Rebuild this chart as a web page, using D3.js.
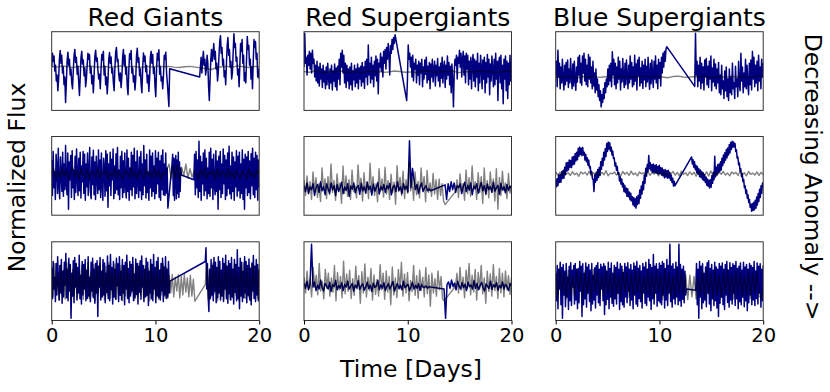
<!DOCTYPE html>
<html><head><meta charset="utf-8">
<script src="https://cdn.jsdelivr.net/npm/d3@7"></script>
<style>body{margin:0;background:#fff;} text{font-family:"DejaVu Sans",sans-serif;fill:#000;}</style>
</head><body>
<svg id="chart" width="830" height="392"></svg>
<script>
// ---------- labels ----------
const colTitles = ["Red Giants", "Red Supergiants", "Blue Supergiants"];
const xTicks = [0, 10, 20];
const xDomain = [0, 20];
const xLabel = "Time [Days]";
const yLabel = "Normalized Flux";
const rightLabel = "Decreasing Anomaly -->";

// ---------- data (values in panel units, -100 = bottom, 100 = top) ----------
// Row 1, Red Giants
const navyA1 = [10,45,25,38,0,15,-25,-10,-50,-20,30,52,20,40,-5,10,-35,-15,-80,-30,25,48,15,30,-10,5,-30,-45,0,40,55,22,35,-8,12,-28,-62,-15,35,50,18,28,-12,8,-40,-20,15,45,30,42,-5,10,-32,-12,-55,-10,38,53,25,33,0,-20,-8,-45,5,42,28,50,-10,12,-35,-15,-58,-25,30,47,20,36,-5,6,-30,-50,10,48,60,24,30,-10,-25,-5,-42,-15,35,55,15,40,-8,10,-38,-60,0,44,30,52,-5,8,-28,-12,-48,-20,40,58,22,34,-12,5,-35,-55,8,46,25,38,-2,14,-30,-10,-52,-18,36,50,20,42,-6,9,-40,-65,5,45,28,54,-8,10,-25,-15,-45,-10,40,30,48,-5,-30,-60,-90,6];
const navyA2 = [-15,10,35,-5,25,50,15,30,-10,5,40,20,-40,-75,-20,30,55,25,45,70,30,50,5,20,-25,-5,40,75,90,45,60,15,30,-15,0,-35,20,65,85,40,55,10,25,-20,-5,45,95,60,70,25,35,-10,5,-40,15,70,50,80,20,40,-25,-5,-30,30,88,55,65,15,30,-20,10,-45,25,80,60,75,30,45,-15,5,-20];
const grayA = [12,10,13,11,9,12,10,13,11,10,12,9,11,13,10,12,11,9,12,10,13,11,12,10,9,11,12,10,8,6,4,9,11,12,10,13,11,9,12,11];
// Row 1, Red Supergiants
const navyB1 = [10,96,20,35,-10,40,15,50,5,45,-5,53,20,30,-15,15,-25,25,-30,10,-38,20,-20,5,-42,15,-28,0,-45,10,-35,20,-15,-45,5,-30,15,-48,0,-25,18,-40,8,-49,12,-20,30,-35,45,10,53,-5,40,-30,20,-42,15,-25,5,-45,10,-35,20,-48,0,-22,15,-40,5,-30,18,-45,8,-20,12,-38,22,-28,10,-44,25,-15,30,-35,66,-10,20,-30,35,-20,15,-40,25,-12,38,-25,30,-58,20,10,45,0,35,-15,50,20,55,5,60,30,70,40,-10,65,45,80,55,85,70,92];
const navyB2 = [-75,-20,66,30,45,10,35,-15,40,-25,20,5,30,-30,15,-10,25,-35,20,-5,30,-40,10,-20,28,-8,35,-30,12,-22,22,-45,18,-15,30,-28,5,25,-38,15,-12,32,-25,10,-40,20,-18,35,-30,8,25,-42,15,-20,38,-10,22,-35,12,-55,18,-25,-91,-5,30,15,40,-20,35,20,53,10,45,-15,30,50,-10,38,-30,45,5,40,-35,25,-20,35,-45,20,42,-25,30,-40,25,-15,45,-50,20,-30,40,10,-45,28,-20,35,-55,22,-30,42,-15,30,-60,18,-25,38,5,-40,30,-35,45,-20,25,-75,20,35,-30,40,-45,15,-83,30,-20,38,-50,25,-70,20,-35,40,-25,10];
const grayB = [-1,-3,0,-2,-4,-1,-2,0,-3,-1,-2,-4,0,-2,-1,-3,-2,0,-1,-3,-2,-4,-1,0,-2,-3,-1,-2,0,-4,-2,-1,-3,0,-2,-1,-3,-2,0,-1];
// Row 1, Blue Supergiants
const navyC1 = [-10,25,-40,53,-15,20,-45,10,-30,30,-20,-48,15,-35,22,-25,28,-42,5,-30,32,-15,-45,18,-38,25,-20,-49,10,-28,35,-10,40,-30,20,-36,38,-5,45,-25,30,-35,15,-40,42,-20,35,-30,10,-45,25,-38,-5,-55,5,-48,-20,-65,-35,-75,-50,-91,-60,-80,-45,-70,-30,-55,-20,-40,5,-35,15,-25,20,-40,49,-10,30,-35,20,-45,10,-30,35,-20,25,-48,5,-28,32,-15,-42,20,-35,28,-10,-45,15,-30,38,-20,22,-40,10,-35,40,-25,18,-48,28,-12,35,-38,8,-30,25,-44,15,-22,30,-40,12,-28,35,-15,-46,20,-32,28,-10,-42,25,-20,38,-30,15,-45,30,-18,22,-38,35,-5,45,10,50,25,55,62];
const navyC2 = [-39,96,-10,25,-40,15,-25,35,-45,20,-30,10,-48,28,-15,32,-35,12,-42,25,-20,38,-50,8,-28,30,-38,18,-45,5,-30,22,-55,-10,-60,15,-45,-25,-70,0,-50,10,-65,-20,-75,5,-55,-15,-60,20,-45,-30,-70,12,-40,-20,-65,25,-35,-50,45,-25,10,-55,-5,-40,30,-45,15,-30,-60,20,-35,28,-48,50,-20,35,-40,15,-30,25,-50,40,-25,10,-45,30,-15,20];
const grayC = [-14,-16,-13,-15,-17,-14,-15,-13,-16,-15,-14,-17,-13,-15,-16,-14,-15,-13,-16,-14,-15,-17,-14,-13,-15,-16,-14,-15,-13,-17,-15,-14,-16,-13,-15,-14,-16,-15,-13,-14];
// Row 2, Red Giants
const navyD1 = [40,-50,62,-30,10,-60,55,20,-45,70,-25,-58,48,5,-40,60,-52,30,-35,77,-20,-48,58,-85,35,-10,52,-55,64,-30,15,-60,50,-42,68,0,-50,45,-38,60,-56,25,-15,62,-45,55,-62,30,-28,58,-50,10,72,-40,-58,48,-22,65,-48,35,-60,50,-5,-45,66,-35,40,-55,58,-20,-62,45,20,-52,64,-38,55,-80,30,-25,60,-50,42,-10,68,-58,25,-44,56,-35,72,-48,15,-60,50,-30,62,-55,38,-42,58,-20,-56,66,-40,45,-62,20,-35,60,-50,52,-28,70,-58,35,-45,64,-15,-55,48,-38,62,-60,30,-48,77,-25,40,-56,55,-42,10,-62,66,-30,50,-52,58,-40,25,-58,64,-45,45,-20,60,-55,38,-62,52,-35,66,-48,30,-50,58,-44,20,-82];
const navyD2 = [31,55,-50,45,-62,30,52,-58,40,-45,60,-55,35,-40,20,2];
const navyD3 = [-10,55,-48,62,-30,40,-55,88,-40,50,-62,35,-20,58,-50,66,-38,45,-58,20,-45,60,-52,70,-30,42,-60,55,-25,-48,64,-40,38,-85,50,-35,62,-55,30,-45,68,-20,52,-60,40,-50,58,-32,75,-46,25,-58,60,-40,48,-62,35,-28,64,-52,50,-38,60,-56,30,-45,66,-60,42,-85,55,-30,48,-50,62,-42,38,-58,56,-25,70,-48,45,-55,60,-35,52,-62,40,-30];
const grayD = [5,18,-8,12,-5,20,0,15,-10,10,22,-3,14,-8,18,2,-6,16,-9,12,8,-4,20,-7,11,3,17,-10,9,-2,19,-6,13,1,-8,15,6,-5,21,-3,10,-9,16,4,-7,18,0,12,-6,20,-4,14,-8,9,3,17,30,-8,25,-5,28,-10,22,0,30,-6,18,-3,12,5,-8,16,-2,20,-6,10,2,15,-9,18,-4,12,7,-5,19,-3,11,-8,16,1,-6,14,4,-9,18,-2,10,-5,15,3];
// Row 2, Red Supergiants
const navyE1 = [-25,-40,-18,-45,-28,-35,-20,-50,-30,-22,-42,-15,-38,-27,-48,-20,-33,-44,-18,-36,-25,-50,-22,-40,-30,-16,-45,-28,-37,-20,-52,-26,-34,-18,-43,-30,-24,-47,-19,-38,-28,-44,-16,-35,-26,-49,-21,-39,-30,-17,-46,-27,-36,-22,-42,-25,-33,-19,-48,-29,-24,-40,-15,-37,-28,-45,-20,-34,-26,-41,89,-30,19,-10,-35,-22,-45,-28,-18,-40,-30,-25,-38,-33,-38];
const navyE2 = [-23,-60,-20,-40,-15,-35,-18,-42,-25,-30,-20,-45,-28,-16,-40,-24,-36,-18,-48,-26,-33,-20,-44,-29,-17,-38,-25,-46,-21,-35,-27,-42,-16,-39,-30,-24,-47,-19,-36,-28,-43,-22,-37,-26,-32];
const grayE1 = [-10,-50,0,-45,-15,-60,10,-40,-5,-55,-20,-65,20,-35,-8,-58,-2,-48,30,-42,-12,-62,5,-38,-18,-70,25,-45,0,-52,-10,-60,15,-40,-25,-56,28,-36,-6,-64,8,-44,-15,-58,32,-40,-2,-50,-20,-66,18,-38,-8,-54,22,-46,-12,-60,4,-42,-16,-72,26,-40,-4,-50,12,-58,-10,-44,35,-38,-6,-62,10,-48,-14,-56,20,-36,-2,-66,14,-42,-18,-52,6,-46,-10,-60,-8,-50,-20,-64,-73];
const grayE2 = [-40,-10,-55,5,-38,-20,-62,15,-45,-5,-52,25,-35,-15,-60,8,-42,-2,-70,20,-48,-12,-56,10,-40,-8,-64,18,-85,-4,-50,12,-38,-18,-58,6,-44,-25];
// Row 2, Blue Supergiants
const navyF1 = [-9,-28,-7,-25,3,-17,3,-16,11,-7,14,-6,22,3,33,12,34,15,40,22,39,21,48,28,49,30,57,38,60,41,70,50,73,54,70,51,72,53,60,40,55,36,46,27,40,20,24,5,11,-8,-9,-40,3,-16,9,-11,16,-4,21,1,36,17,45,26,60,40,69,49,82,62,86,68,84,63,73,53,63,44,46,25,33,14,24,4,8,-13,-3,-21,-8,-28,-19,-40,-24,-43,-31,-52,-33,-53,-41,-61,-44,-64,-53,-74,-55,-78,-58,-82,-53,-73,-49,-70,-36,-57,-26,-46,-15,-35,2,-19,19,-1,29,11,52,18,33,13,28,9,30,9,27,8,28,6,24,5,27,6,21,2,20,0,15,-5,16,-3,13,-6,14,-5,9,-11,2,-17,-6,-26,-14,-25];
const navyF2 = [48,30,41,22,36,16,27,8,24,4,18,-2,15,-4,11,-9,8,-12,3,-17,-3,-24,-8,-27,-11,-31,-10,-29,1,-19,9,-10,50,-3,22,3,28,8,30,11,36,15,45,26,53,33,59,40,67,46,71,53,79,58,85,67,88,72,86,74,82,62,66,45,48,28,33,12,18,-2,6,-15,-9,-30,-25,-45,-36,-57,-48,-68,-60,-80,-72,-90,-70,-88,-67,-86,-62,-82,-54,-74,-45,-65,-34,-55,-25,-44,-18,-30];
const grayF = [10,2,9,0,12,4,8,1,11,3,7,-1,10,5,9,2,12,0,8,4,11,1,9,3,13,0,7,5,10,2,8,-1,11,4,9,1,12,3,7,0,10,5,8,2,11,1,9,4,12,0,8,3,10,1,7,5,11,2,9,0,12,4,8,1,10,3,9,-1,11,5,7,2,10,0,12,3,8,1,9,4,11,2,7,0,10,5,9,1,12,3,8,0,11,4,7,2,10,1,9,3];
// Row 3, Red Giants
const navyG1 = [35,-45,50,-20,10,-52,45,-35,62,5,-48,40,-30,55,-56,25,-40,48,-10,70,-42,30,-50,58,-25,42,-94,20,-38,52,-55,60,-15,45,-48,35,-30,66,-45,15,-58,50,-35,42,-20,55,-50,28,-44,62,-38,10,-52,48,-25,58,-42,30,-56,45,-30,52,-90,38,-15,60,-48,25,-40,55,-35,46,-55,20,-28,64,-45,40,-50,68,-22,35,-58,50,-40,30,-46,58,-12,44,-52,62,-36,25,-48,55,-30,40,-60,48,-20,66,-44,32,-55,50,-38,42,-25,60,-50,18,-42,56,-34,45,-58,38,-28,52,-46,64,-15,40,-52,30,-40,58,-36,48,-62,25,-30,55,-45,42,-50,68,-20,35,-55,50,-38,60,-42,28,-48,45,-25,58,-52,36,-35,62,-44,30,-40,50,-30,0];
const navyG2 = [50,85,-20,45,-40,-77,30,-45,55,-35,40,-50,60,-25,48,-55,35,-42,62,-30,50,-48,28,-38,58,-52,45,-20,66,-45,38,-56,52,-32,44,-48,60,-40,30,-58,55,-28,42,-50,80,-45,35,-70,58,-38,48,-52,25,-42,62,-30,50,-55,40,-36,56,-48,32,-60,46,-25,65,-44,38,-52,55,-35,42,-50,30];
const grayG1 = [35,-40,45,-30,20,-48,40,-35,28,-45,47,-25,38,-50,30,-38,44,-42,25,-33,40,-46,32,-28,46,-44,22,-38,42,-50,35,-30,45,-40,28,-48,38,-35,47,-42,30,-36,44,-46,26,-32,40,-50,34,-38,45,-44,24,-30,42,-48,36,-40,46,-34,28,-45,40,-38,32,-50,44,-36,26,-42,38,-46,30,-35,45,-40,34,-44,15,-30,17,-40,10,-25,16,-43,12,-35,17,-28,8,-40,15,-38,5,-51];
const grayG2 = [-9,40,-45,30,-38,46,-30,35,-50,42,-40,28,-48,44,-34,38,-46,30,-42,45,-36,26,-50,40,-38,47,-44,32,-40,36,-48,42,-30,38,-45,25];
// Row 3, Red Supergiants
const navyH1 = [-5,-18,0,-22,-8,94,-15,-2,-24,-10,-20,3,-16,-25,-6,-12,-20,-3,-26,-9,-14,2,-22,-11,-18,-4,-24,-8,-15,0,-20,-13,-6,-25,-10,-17,1,-21,-12,-7,-23,-14,-3,-19,-10,-26,-5,-16,-12,2,-22,-9,-18,-4,-24,-13,-7,-20,-11,-1,-25,-15,-6,-19,-10,-22,0,-17,-12,-8,-24,-14,-3,-20,-11,-18,-6,-23,-9,-15,-16,-12,-18,-14,-15];
const navyH2 = [-20,-94,-8,-2,-18,3,-14,-5,-22,0,-12,-20,-4,-16,-8,-24,-2,-14,-10,-20,1,-18,-6,-22,-12,-3,-16,-25,-7,-13,-19,0,-21,-9,-15,-4,-23,-11,-17,-2,-20,-8,-14,-24,-6,-12];
const grayH1 = [10,-30,25,-20,5,-40,35,-15,15,-35,45,-25,0,-45,30,-18,20,-38,8,-28,40,-50,22,-22,12,-42,51,-32,18,-26,28,-44,6,-36,38,-20,14,-56,24,-30,44,-40,10,-24,32,-48,16,-34,4,-38,42,-22,20,-46,26,-28,12,-60,36,-35,8,-42,30,-20,48,-38,18,-30,22,-50,2,-26,40,-36,14,-44,28,-24,10,-40,34,-32,16,-64,20,-30,6,-38,26,-22,12,-45,-50];
const grayH2 = [-13,20,-30,35,-22,10,-42,28,-18,45,-35,15,-28,30,-48,22,-20,40,-32,8,-56,25,-26,18,-38,42,-24,12,-44,32,-30,20,-40,26,-22,14,-34,10];
// Row 3, Blue Supergiants
const navyI1 = [20,-50,40,-70,30,-20,48,-60,35,-94,42,-35,25,-65,45,-40,10,-72,38,-50,47,-62,28,-15,40,-58,45,-48,30,-70,32,-55,50,-25,38,-90,44,-60,20,-45,46,-66,36,-30,42,-52,28,-75,45,-58,15,-48,34,-68,40,-35,47,-55,30,-62,43,-20,36,-50,44,-85,38,-60,25,-46,48,-70,32,-40,46,-56,20,-64,40,-45,35,-58,48,-30,30,-72,44,-52,38,-60,22,-66,45,-40,36,-55,47,-25,30,-62,42,-48,28,-70,46,-35,38,-58,50,-64,33,-44,40,-52,26,-68,45,-30,36,-56,48,-62,30,-40,55,-50,42,-72,35,-45,68,-58,38,-30,44,-64,30,-50,46,-55,40,-60,50,-35,45,-68,32,-48,55,-62,40,-30,94,-52,38,-66,44,-45,30,-58,48,-40,36,-60,94,-50,42,-64,30,-46,38,-55,25,-35,-20];
const navyI2 = [-23,45,-60,30,-94,50,-40,38,-70,44,-55,20,-48,36,-65,47,-30,52,-58,32,-75,42,-45,28,-62,48,-50,36,-68,30,-90,45,-56,38,-40,46,-60,30,-72,42,-35,50,-54,28,-66,47,-48,35,-58,44,-30,40,-62,50,-45,32,-70,38,-52,46,-60,28,-40,48,-65,36,-50,42,-75,30,-55,45,-35,40,-60,35,-48,50,-62,26,-44,46,-58,38,-30,44,-66,30,-50,40];
const grayI = [25,-40,30,-30,20,-45,28,-35,15,-38,30,-25,22,-42,26,-32,18,-44,30,-28,24,-40,16,-36,28,-30,20,-45,26,-34,14,-40,30,-26,22,-42,18,-38,28,-30,24,-44,16,-32,30,-36,20,-40,26,-28,18,-46,28,-34,22,-38,14,-42,30,-30,24,-36,17,-47,15,-40,12,-45,10,-35,26,-40,30,-32,20,-44,28,-36,16,-42,24,-30,30,-38,18,-46,26,-34,22,-40,14,-36,28,-44,20,-30,26,-38,-42,-20];

// panels: segments are [startDay, endDay, values]
const panels = [
  {row:0,col:0, navy:[[0,11.37,navyA1],[14.26,20,navyA2]], gray:[[0,20,grayA]]},
  {row:0,col:1, navy:[[0,8.78,navyB1],[9.9,20,navyB2]], gray:[[0,20,grayB]]},
  {row:0,col:2, navy:[[0,10.7,navyC1],[13.4,20,navyC2]], gray:[[0,20,grayC]]},
  {row:1,col:0, navy:[[0,11.2,navyD1],[11.6,12.5,navyD2],[13.7,20,navyD3]], gray:[[0,20,grayD]]},
  {row:1,col:1, navy:[[0,12.2,navyE1],[13.6,20,navyE2]], gray:[[0,13.6,grayE1],[14.6,20,grayE2]]},
  {row:1,col:2, navy:[[0,11.5,navyF1],[13.1,20,navyF2]], gray:[[0,20,grayF]]},
  {row:2,col:0, navy:[[0,11.4,navyG1],[14.8,20,navyG2]], gray:[[0,13.8,grayG1],[14.8,20,grayG2]]},
  {row:2,col:1, navy:[[0,12.2,navyH1],[13.5,20,navyH2]], gray:[[0,13.5,grayH1],[14.6,20,grayH2]]},
  {row:2,col:2, navy:[[0,12.6,navyI1],[13.5,20,navyI2]], gray:[[0,20,grayI]]}
];

// ---------- layout ----------
const colX = [51.7, 304, 555.7];
const rowY = [31.7, 136.5, 241.8];
const pw = 207.5, ph = 78.7;

const svg = d3.select("#chart");
const x = d3.scaleLinear().domain(xDomain).range([0, pw]);
const y = d3.scaleLinear().domain([-100, 100]).range([ph, 0]);
const line = d3.line().x(d => x(d[0])).y(d => y(d[1]));

function toPoints(segs) {
  const pts = [];
  segs.forEach(([t0, t1, vals]) => {
    const n = vals.length;
    vals.forEach((v, i) => pts.push([t0 + (t1 - t0) * (n > 1 ? i / (n - 1) : 0), v]));
  });
  return pts;
}

const defs = svg.append("defs");
defs.append("clipPath").attr("id", "pclip").append("rect")
  .attr("x", 0).attr("y", 0).attr("width", pw).attr("height", ph);

panels.forEach(p => {
  const g = svg.append("g").attr("transform", `translate(${colX[p.col]},${rowY[p.row]})`);
  const inner = g.append("g").attr("clip-path", "url(#pclip)");
  inner.append("path").datum(toPoints(p.navy)).attr("d", line)
    .attr("fill", "none").attr("stroke", "#000080").attr("stroke-width", 1.5).attr("stroke-linejoin", "round");
  inner.append("path").datum(toPoints(p.gray)).attr("d", line)
    .attr("fill", "none").attr("stroke", "#808080").attr("stroke-width", 1.4).attr("stroke-linejoin", "round")
    .style("mix-blend-mode", "multiply");
  g.append("rect").attr("x", 0).attr("y", 0).attr("width", pw).attr("height", ph)
    .attr("fill", "none").attr("stroke", "#333").attr("stroke-width", 1);
  if (p.row === 2) {
    const ax = g.append("g").attr("transform", `translate(0,${ph})`)
      .call(d3.axisBottom(x).tickValues(xTicks).tickSize(4).tickPadding(3.5).tickFormat(d3.format("d")));
    ax.attr("font-size", null).attr("font-family", null);
    ax.select(".domain").remove();
    ax.selectAll("line").attr("stroke", "#000");
    ax.selectAll("text").style("font-size", "19.5px").style("font-family", "'DejaVu Sans'").attr("fill", "#000");
  }
  if (p.row === 0) {
    g.append("text").attr("x", pw / 2).attr("y", -5.7).attr("text-anchor", "middle")
      .style("font-size", "25px").text(colTitles[p.col]);
  }
});

svg.append("text").attr("x", 411).attr("y", 376.5).attr("text-anchor", "middle")
  .style("font-size", "23.5px").text(xLabel);
svg.append("text").attr("transform", "translate(24.5,177.5) rotate(-90)").attr("text-anchor", "middle")
  .style("font-size", "23.5px").text(yLabel);
svg.append("text").attr("transform", "translate(805,177) rotate(90)").attr("text-anchor", "middle")
  .style("font-size", "23.5px").text(rightLabel);
</script>
</body></html>
